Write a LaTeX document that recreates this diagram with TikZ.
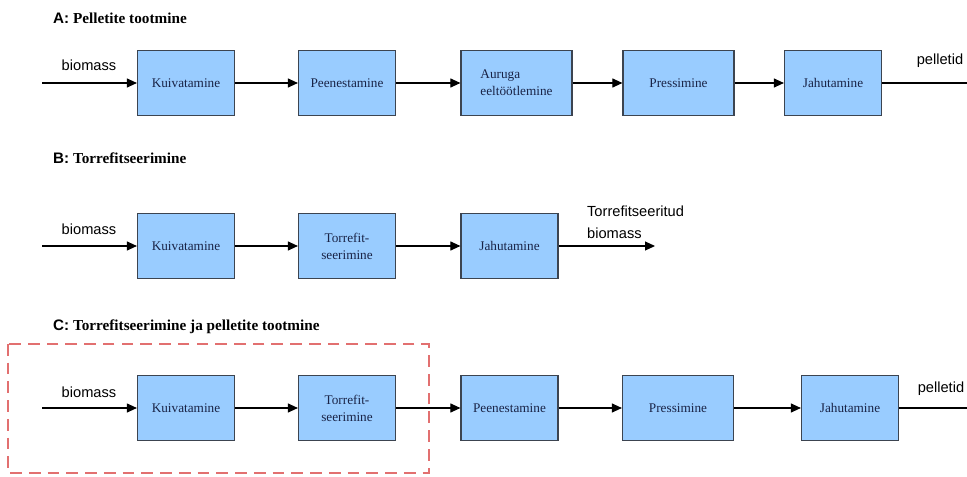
\documentclass[tikz,border=0pt]{standalone}
\usepackage{fontspec}
\setmainfont{Liberation Serif}
\setsansfont{Liberation Sans}
\usepackage[dvipsnames]{xcolor}
\usepackage{tikz}
\usetikzlibrary{arrows.meta,positioning}
\definecolor{BoxBlue}{RGB}{153,204,255}
\definecolor{BoxEdge}{RGB}{60,68,80}
\definecolor{BoxText}{RGB}{25,35,70}
\definecolor{DashRed}{RGB}{226,112,112}

\begin{document}
\begin{tikzpicture}[x=0.03cm, y=-0.03cm]
        \tikzstyle Process Box=[draw=BoxEdge, line width=1pt, fill=BoxBlue, text=BoxText, font=\fontsize{11.3}{14.5}\selectfont, minimum width=2.91cm, minimum height=1.95cm, inner sep=2pt, align=center]
        \tikzstyle Wide Box=[Process Box, minimum width=3.33cm]
        \tikzstyle Flow Line=[line width=0.9pt, -{Triangle[length=3mm, width=2.7mm]}]
        \tikzstyle Out Line=[line width=0.9pt]
        \tikzstyle Stream Label=[font=\sffamily\fontsize{12.5}{18.5}\selectfont]
        \tikzstyle Title Label=[anchor=west, font=\fontsize{13}{15}\selectfont]

        \tikzstyle Group Line=[DashRed, line width=1.1pt, dash pattern=on 10pt off 6pt]

        \useasboundingbox (0,0) rectangle (967,477);

        % A
        \node[Title Label] (title a) at (49,18) {{\sffamily\bfseries A:}~\textbf{Pelletite tootmine}};
        \coordinate (in a) at (42,83);
        \coordinate (out a) at (967,83);
        \node[Process Box] (a1) at (186,83) {Kuivatamine};
        \node[Process Box] (a2) at (347,83) {Peenestamine};
        \node[Wide Box, align=left] (a3) at (516.5,83) {Auruga\\eeltöötlemine};
        \node[Wide Box] (a4) at (678.5,83) {Pressimine};
        \node[Process Box] (a5) at (833,83) {Jahutamine};
        \node[Stream Label] (bio a) at (89,65) {biomass};
        \node[Stream Label] (pel a) at (940,61) {pelletid};
        \draw[Flow Line] (in a) -- (a1);
        \draw[Flow Line] (a1) -- (a2);
        \draw[Flow Line] (a2) -- (a3);
        \draw[Flow Line] (a3) -- (a4);
        \draw[Flow Line] (a4) -- (a5);
        \draw[Out Line] (a5) -- (out a);

        % B
        \node[Title Label] (title b) at (49,158) {{\sffamily\bfseries B:}~\textbf{Torrefitseerimine}};
        \coordinate (in b) at (42,246);
        \coordinate (out b) at (655,246);
        \node[Process Box] (b1) at (186,246) {Kuivatamine};
        \node[Process Box] (b2) at (347,246) {Torrefit-\\seerimine};
        \node[Process Box] (b3) at (509.5,246) {Jahutamine};
        \node[Stream Label] (bio b) at (89,229) {biomass};
        \node[Stream Label, anchor=west, align=left] (prod b) at (583,222) {Torrefitseeritud\\biomass};
        \draw[Flow Line] (in b) -- (b1);
        \draw[Flow Line] (b1) -- (b2);
        \draw[Flow Line] (b2) -- (b3);
        \draw[Flow Line] (b3) -- (out b);

        % C
        \node[Title Label] (title c) at (49,327) {{\sffamily\bfseries C:}~\textbf{Torrefitseerimine ja pelletite tootmine}};
        \draw[Group Line] (8,344) rectangle (429,473);
        \coordinate (in c) at (42,408);
        \coordinate (out c) at (967,408);
        \node[Process Box] (c1) at (186,408) {Kuivatamine};
        \node[Process Box] (c2) at (347,408) {Torrefit-\\seerimine};
        \node[Process Box] (c3) at (509.5,408) {Peenestamine};
        \node[Wide Box] (c4) at (678,408) {Pressimine};
        \node[Process Box] (c5) at (850,408) {Jahutamine};
        \node[Stream Label] (bio c) at (89,392) {biomass};
        \node[Stream Label] (pel c) at (941,389) {pelletid};
        \draw[Flow Line] (in c) -- (c1);
        \draw[Flow Line] (c1) -- (c2);
        \draw[Flow Line] (c2) -- (c3);
        \draw[Flow Line] (c3) -- (c4);
        \draw[Flow Line] (c4) -- (c5);
        \draw[Out Line] (c5) -- (out c);
    \end{tikzpicture}
\end{document}
